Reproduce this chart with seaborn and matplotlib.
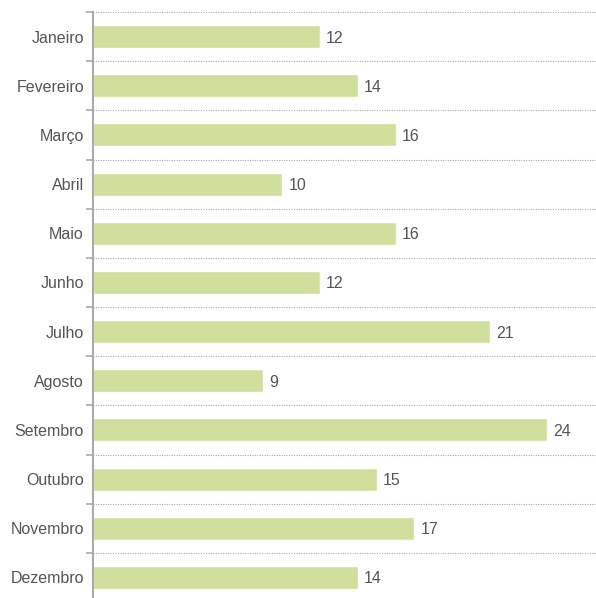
import pandas as pd
import matplotlib
matplotlib.use('Agg')
import matplotlib.pyplot as plt
import seaborn as sns
import numpy as np

# data
meses = ['Janeiro', 'Fevereiro', 'Março', 'Abril', 'Maio', 'Junho',
         'Julho', 'Agosto', 'Setembro', 'Outubro', 'Novembro', 'Dezembro']
valores = [12, 14, 16, 10, 16, 12, 21, 9, 24, 15, 17, 14]

df = pd.DataFrame({'Mes': meses, 'Valor': valores})

sns.set_style('white')
plt.rcParams['font.family'] = ['Liberation Sans', 'DejaVu Sans']

fig = plt.figure(figsize=(5.96, 5.98), dpi=100)
ax = fig.add_axes([0.156, -0.0067, 0.844, 0.9866])

sns.barplot(data=df, x='Valor', y='Mes', orient='h', color='#d0e09c',
            saturation=1, width=0.47, ax=ax)

ax.set_xlim(0, 26.6)
ax.set_ylim(len(meses) - 0.5, -0.5)

# value labels
for cont in ax.containers:
    for t in ax.bar_label(cont, padding=4.5, fontsize=11.5, color='#555555'):
        t.set_y(t.get_position()[1])
        t.set_verticalalignment('center_baseline')

# dotted gridlines between categories, with small ticks on the axis
ax.set_yticks(np.arange(len(meses) + 1) - 0.5, minor=True)
ax.tick_params(axis='y', which='minor', length=5, width=1.2, color='#aaaaaa', left=True)
ax.tick_params(axis='y', which='major', length=0, pad=6.5, labelsize=11.5, labelcolor='#555555')
ax.grid(axis='y', which='minor', linestyle=(0, (1, 1.2)), color='#aaaaaa', linewidth=0.8)
ax.grid(axis='y', which='major', visible=False)
ax.grid(axis='x', visible=False)
ax.set_axisbelow(True)

ax.set_xticks([])
ax.set_xlabel('')
ax.set_ylabel('')
for s in ['top', 'right', 'bottom']:
    ax.spines[s].set_visible(False)
ax.spines['left'].set_color('#aaaaaa')
ax.spines['left'].set_linewidth(1.5)

fig.savefig('out.png', dpi=100)
